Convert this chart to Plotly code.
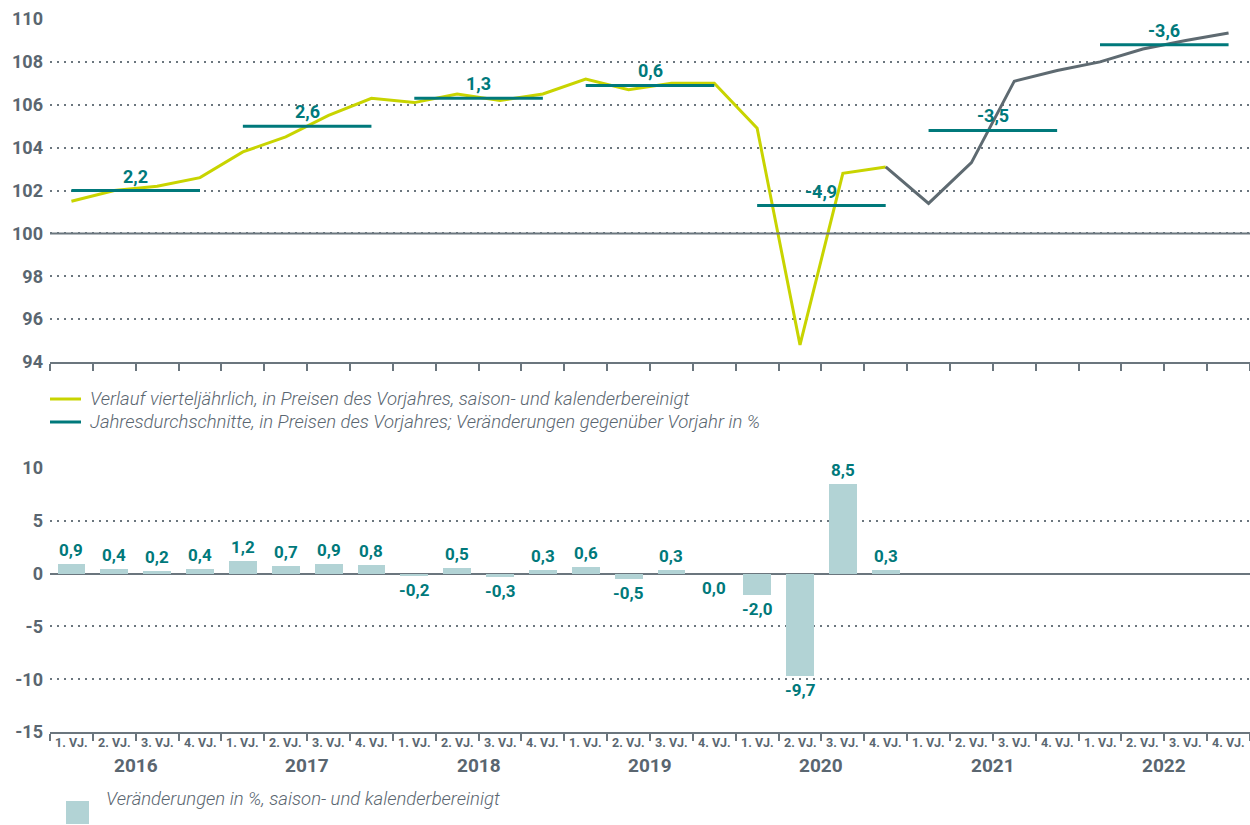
import plotly.graph_objects as go

# ---------------- data ----------------
years = ["2016", "2017", "2018", "2019", "2020", "2021", "2022"]
quarter_labels = ["1. VJ.", "2. VJ.", "3. VJ.", "4. VJ."]

# quarterly index (prices of previous year, seasonally/calendar adjusted)
index_actual = [101.5, 102.0, 102.2, 102.6, 103.8, 104.5, 105.5, 106.3,
                106.1, 106.5, 106.2, 106.5, 107.2, 106.7, 107.0, 107.0,
                104.9, 94.8, 102.8, 103.1]
# projection (starts at last actual quarter, 2020 Q4)
index_forecast = [103.1, 101.4, 103.3, 107.1, 107.6, 108.0, 108.6, 109.0, 109.35]

# annual averages and change vs previous year in %
annual_avg = [102.0, 105.0, 106.3, 106.9, 101.3, 104.8, 108.8]
annual_change = [2.2, 2.6, 1.3, 0.6, -4.9, -3.5, -3.6]

# quarter-on-quarter change in %
qoq_change = [0.9, 0.4, 0.2, 0.4, 1.2, 0.7, 0.9, 0.8, -0.2, 0.5, -0.3, 0.3,
              0.6, -0.5, 0.3, 0.0, -2.0, -9.7, 8.5, 0.3]

# ---------------- styles ----------------
FONT = "Roboto, Lato, sans-serif"
GREY_TXT = "#5a6670"
AXIS_GREY = "#6b767e"
YELLOW = "#c8d400"
TEAL = "#00797b"
LINE_GREY = "#5e6a71"
BAR_FILL = "#b2d3d5"

W, H = 1250, 825
def py(pix):  # pixel row -> paper fraction
    return 1 - pix / H

n_q = len(years) * 4
x_actual = list(range(len(index_actual)))
x_fc = list(range(len(index_actual) - 1, len(index_actual) - 1 + len(index_forecast)))

fig = go.Figure()

# top chart lines
fig.add_trace(go.Scatter(x=x_actual, y=index_actual, mode="lines", xaxis="x2", yaxis="y2",
                         line=dict(color=YELLOW, width=3), showlegend=False, hoverinfo="skip"))
fig.add_trace(go.Scatter(x=x_fc, y=index_forecast, mode="lines", xaxis="x2", yaxis="y2",
                         line=dict(color=LINE_GREY, width=3), showlegend=False, hoverinfo="skip"))

def fmt(v):
    return ("%.1f" % v).replace(".", ",")

annotations = []
for k, (avg, chg) in enumerate(zip(annual_avg, annual_change)):
    fig.add_trace(go.Scatter(x=[4 * k, 4 * k + 3], y=[avg, avg], mode="lines",
                             xaxis="x2", yaxis="y2", line=dict(color=TEAL, width=3),
                             showlegend=False, hoverinfo="skip"))
    annotations.append(dict(x=4 * k + 1.5, y=avg, xref="x2", yref="y2", text=fmt(chg),
                            showarrow=False, yanchor="bottom", yshift=2,
                            font=dict(family=FONT, size=18, color=TEAL, weight="bold")))

# bottom chart bars
fig.add_trace(go.Bar(x=list(range(len(qoq_change))), y=qoq_change, xaxis="x", yaxis="y",
                     marker=dict(color=BAR_FILL, line=dict(width=0)), width=0.65,
                     showlegend=False, hoverinfo="skip"))
for i, v in enumerate(qoq_change):
    annotations.append(dict(x=i, y=v, xref="x", yref="y", text=fmt(v), showarrow=False,
                            yanchor="bottom" if v > 0 else "top",
                            yshift=2 if v > 0 else -2,
                            font=dict(family=FONT, size=17, color=TEAL, weight="bold")))

# category labels
for i in range(n_q):
    annotations.append(dict(x=i, y=py(752), xref="x", yref="paper",
                            text=quarter_labels[i % 4], showarrow=False,
                            font=dict(family=FONT, size=12.5, color=GREY_TXT, weight="bold")))
for k, yr in enumerate(years):
    annotations.append(dict(x=4 * k + 1.5, y=py(779), xref="x", yref="paper",
                            text=yr, showarrow=False,
                            font=dict(family=FONT, size=19, color=GREY_TXT, weight="bold")))

# legends (manual)
legend_txt = dict(family=FONT, size=18.5, color=GREY_TXT, style="italic", weight=300)
annotations += [
    dict(x=88 / W, y=py(399), xref="paper", yref="paper", xanchor="left", showarrow=False,
         text="Verlauf vierteljährlich, in Preisen des Vorjahres, saison- und kalenderbereinigt",
         font=legend_txt),
    dict(x=88 / W, y=py(422), xref="paper", yref="paper", xanchor="left", showarrow=False,
         text="Jahresdurchschnitte, in Preisen des Vorjahres; Veränderungen gegenüber Vorjahr in %",
         font=legend_txt),
    dict(x=104 / W, y=py(812), xref="paper", yref="paper", xanchor="left", showarrow=False,
         text="Veränderungen in %, saison- und kalenderbereinigt", font=legend_txt),
]

shapes = [
    # solid 100 reference line in top chart
    dict(type="line", xref="x2 domain", yref="y2", x0=0, x1=1, y0=100, y1=100,
         line=dict(color=AXIS_GREY, width=2), layer="above"),
    # legend swatches
    dict(type="line", xref="paper", yref="paper", x0=50 / W, x1=81 / W, y0=py(399), y1=py(399),
         line=dict(color=YELLOW, width=3)),
    dict(type="line", xref="paper", yref="paper", x0=50 / W, x1=81 / W, y0=py(422), y1=py(422),
         line=dict(color=TEAL, width=3)),
    dict(type="rect", xref="paper", yref="paper", x0=66 / W, x1=89 / W, y0=py(824), y1=py(801),
         fillcolor=BAR_FILL, line=dict(width=0)),
]

boundaries = [i - 0.5 for i in range(n_q + 1)]
xcommon = dict(range=[-0.5, n_q - 0.5], domain=[50 / W, 1.0], tickvals=boundaries,
               ticks="outside", ticklen=7, tickwidth=1.5, tickcolor=AXIS_GREY,
               showticklabels=False, showgrid=False, zeroline=False, automargin=False,
               showline=True, linecolor=AXIS_GREY, linewidth=2)
tickfont = dict(family=FONT, size=18, color=GREY_TXT, weight="bold")

top_ticks = list(range(94, 111, 2))
bot_ticks = list(range(-15, 11, 5))

fig.update_layout(
    template="none",
    width=W, height=H, margin=dict(l=0, r=0, t=0, b=0, pad=0, autoexpand=False),
    paper_bgcolor="white", plot_bgcolor="white", bargap=0,
    xaxis=dict(anchor="y", **xcommon),
    xaxis2=dict(anchor="y2", **xcommon),
    yaxis=dict(domain=[py(732), py(468)], range=[-15, 10], tickvals=bot_ticks,
               ticktext=[str(t) for t in bot_ticks], tickfont=tickfont, ticks="",
               ticklabelstandoff=6, automargin=False, showline=False,
               showgrid=True, gridcolor=AXIS_GREY, gridwidth=2, griddash="2px,5px",
               zeroline=True, zerolinecolor=AXIS_GREY, zerolinewidth=2, anchor="x"),
    yaxis2=dict(domain=[py(362), py(19)], range=[94, 110], tickvals=top_ticks,
                ticktext=[str(t) for t in top_ticks], tickfont=tickfont, ticks="",
                ticklabelstandoff=6, automargin=False, showline=False,
                showgrid=True, gridcolor=AXIS_GREY, gridwidth=2, griddash="2px,5px",
                zeroline=False, anchor="x2"),
    annotations=annotations, shapes=shapes, showlegend=False,
)

fig.write_html("out.html", config={"displayModeBar": False},
               post_script="document.body.style.margin='0';document.body.style.overflow='hidden';")
